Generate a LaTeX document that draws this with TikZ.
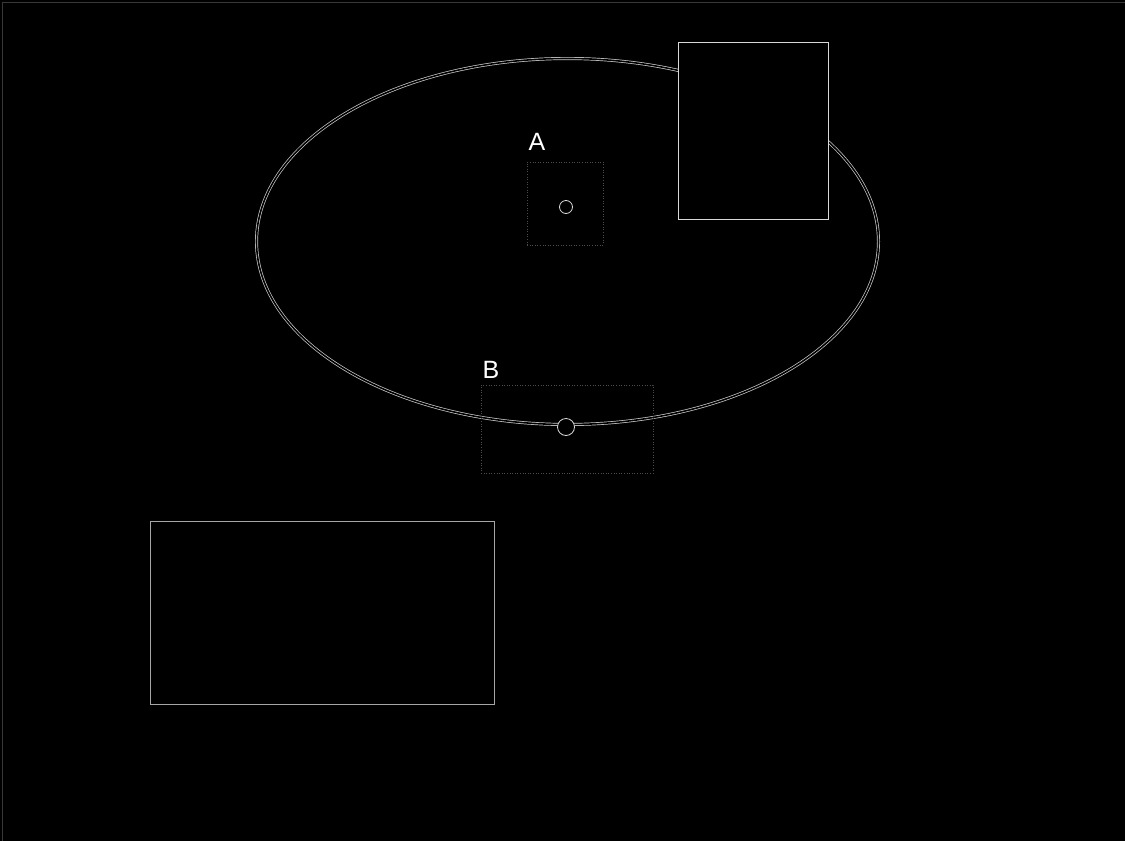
\documentclass[tikz,border=0pt]{standalone}
\usepackage{fontspec}
\setmainfont{Liberation Sans}
\usetikzlibrary{shapes.geometric}
\begin{document}
\begin{tikzpicture}[x=1pt,y=-1pt,
  orbitline/.style={draw=white!80!black, double=black, double distance=1.6pt, line width=0.7pt},
  whitebox/.style={draw=white!85!black, fill=black, line width=1pt, inner sep=0pt},
  faintbox/.style={draw=white!30!black, line width=0.6pt, dotted, inner sep=0pt},
  graybox/.style={draw=white!65!black, line width=0.9pt, inner sep=0pt},
  dot/.style={circle, draw=white!85!black, fill=black, line width=0.8pt, inner sep=0pt},
  lbl/.style={text=white, font=\fontsize{25}{27}\selectfont, inner sep=0pt}]
\fill[black] (0,0) rectangle (1125,841);
\useasboundingbox (0,0) rectangle (1125,841);
\draw[white!22!black, line width=0.8pt] (2,841) -- (2,2) -- (1125,2);
% orbit ellipse
\node[ellipse, orbitline, minimum width=622pt, minimum height=366pt, inner sep=0pt] (orbit) at (567.5,241.5) {};
% top-right box
\node[whitebox, minimum width=150pt, minimum height=177pt] (boxTR) at (753,130.5) {};
% A region
\node[faintbox, minimum width=76pt, minimum height=83pt] (regA) at (565,203.5) {};
\node[dot, minimum size=13pt] (dotA) at (566,207) {};
\node[lbl] (labA) at (537,142) {A};
% B region
\node[faintbox, minimum width=172pt, minimum height=88pt] (regB) at (567,429) {};
\node[dot, minimum size=17pt] (dotB) at (566,427) {};
\node[lbl] (labB) at (491,370) {B};
% bottom-left box
\node[graybox, minimum width=344pt, minimum height=183pt] (boxBL) at (322,612.5) {};
\end{tikzpicture}
\end{document}
